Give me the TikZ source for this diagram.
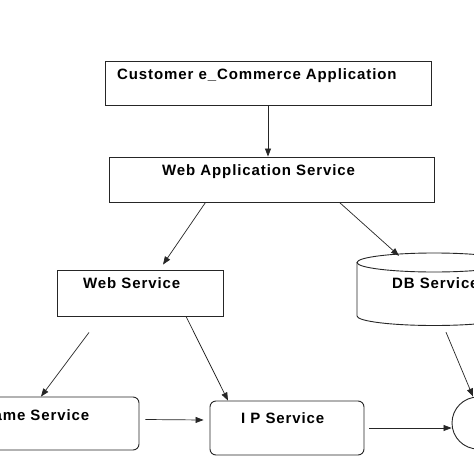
\documentclass[tikz,border=0pt]{standalone}
\usepackage{fontspec}
\setmainfont{Liberation Sans}[LetterSpace=6]
\usetikzlibrary{arrows.meta}
\begin{document}
\begin{tikzpicture}[x=1pt,y=-1pt,
  box/.style={draw=black!85,line width=0.9pt,inner sep=0pt},
  rbox/.style={box,rounded corners=6pt},
  lbl/.style={anchor=base west,inner sep=0pt,font=\fontsize{15}{15}\selectfont\bfseries},
  conn/.style={draw=black!85,line width=0.7pt,-{Triangle[length=8pt,width=6pt]}}]
\useasboundingbox (0,0) rectangle (474,474);
\clip (0,0) rectangle (474,474);
\fill[white] (0,0) rectangle (474,474);
% boxes
\node[box,minimum width=326pt,minimum height=44pt] (cust) at (268,83) {};
\node[box,minimum width=325pt,minimum height=45pt] (wa) at (271.5,179.5) {};
\node[box,minimum width=166pt,minimum height=46pt] (ws) at (140,293) {};
\node[rbox,minimum width=160pt,minimum height=53pt] (name) at (59,423.5) {};
\node[rbox,minimum width=154pt,minimum height=54pt] (ip) at (287,428) {};
% DB cylinder
\node[inner sep=0pt,minimum width=154pt,minimum height=72pt] (db) at (434,289) {};
\draw[draw=black!85,line width=0.9pt] (434,262.5) ellipse [x radius=77, y radius=9.5];
\draw[draw=black!85,line width=0.9pt] (357,262.5) -- (357,316) arc[start angle=180,end angle=360,x radius=77,y radius=-9.5] -- (511,262.5);
% circle
\node[draw=black!85,line width=0.9pt,circle,minimum size=52pt,inner sep=0pt] (circ) at (478,423) {};
% labels
\node[lbl] (tcust) at (117,79.5) {Customer e\_Commerce Application};
\node[lbl] (twa) at (162,175.5) {Web Application Service};
\node[lbl] (tws) at (83,288.5) {Web Service};
\node[lbl,anchor=base east] (tname) at (89.5,420) {Name Service};
\node[lbl] (tip) at (241,423.5) {I P Service};
\node[lbl] (tdb) at (392,288.5) {DB Service};
% connectors
\draw[conn] (cust.south) -- (cust.south |- wa.north);
\draw[conn] ([xshift=-66pt]wa.south) -- ([xshift=23pt,yshift=5pt]ws.north);
\draw[conn] ([xshift=68pt]wa.south) -- ([xshift=-35pt,yshift=-3pt]db.north);
\draw[conn] ([xshift=-51pt,yshift=-16pt]ws.south) -- ([xshift=-18pt]name.north);
\draw[conn] ([xshift=46pt]ws.south) -- ([xshift=-59pt]ip.north);
\draw[conn] ([xshift=6pt,yshift=4pt]name.east) -- ([xshift=-6pt,yshift=8pt]ip.west);
\draw[conn] ([xshift=5pt]ip.east) -- (ip.east -| circ.west);
\draw[conn] ([xshift=12pt,yshift=-7pt]db.south) -- ([xshift=-5pt]circ.north);
\end{tikzpicture}
\end{document}
